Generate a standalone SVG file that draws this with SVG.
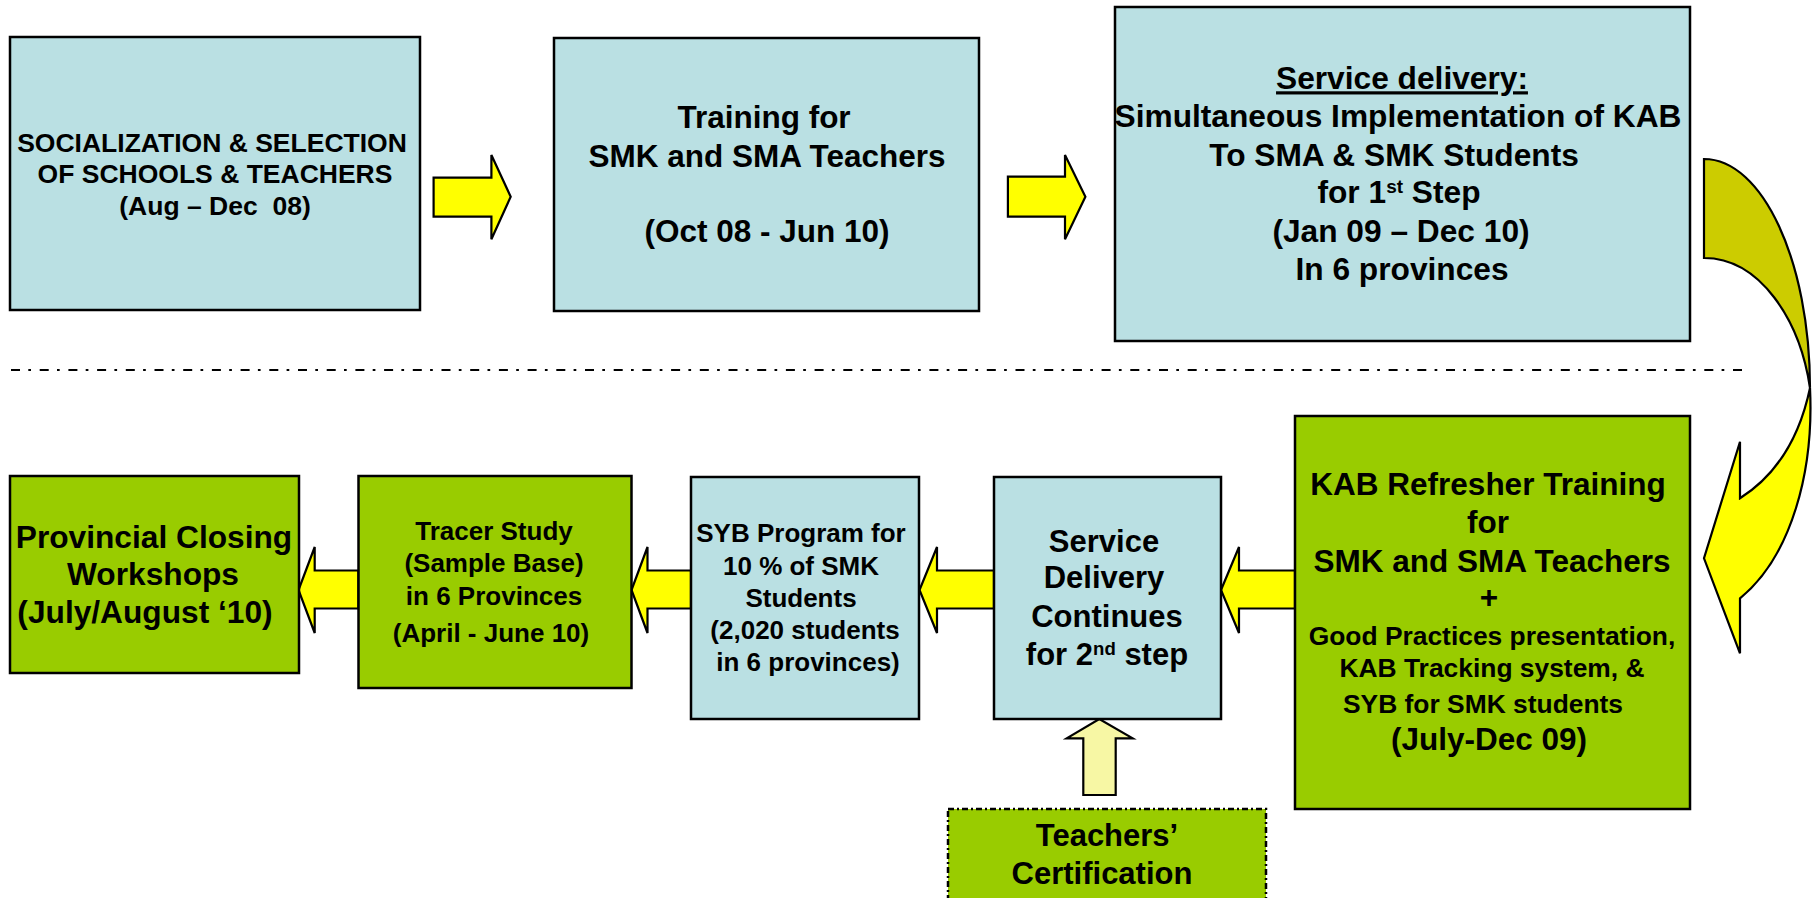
<svg xmlns="http://www.w3.org/2000/svg" width="1812" height="898" viewBox="0 0 1812 898">
<style>
.blue{fill:#BAE0E3;stroke:#000;stroke-width:2.5}
.green{fill:#99CC00;stroke:#000;stroke-width:2.5}
.arr{fill:#FFFF00;stroke:#000;stroke-width:2.2;stroke-linejoin:miter}
.t{font-family:"Liberation Sans",Arial,sans-serif;font-weight:bold;fill:#000;text-anchor:middle}
.sup{font-size:60%}
</style>
<rect width="1812" height="898" fill="#fff"/>
<line x1="11" y1="370" x2="1750" y2="370" stroke="#000" stroke-width="2" stroke-dasharray="9 8.3 2.7 8.7"/>
<g id="connectors">
<path class="arr" d="M433.6,177.7 H491.4 V155 L510.7,196.7 L491.4,239.3 V216.7 H433.6 Z"/>
<path class="arr" d="M1007.9,176.7 H1065 V155 L1085.4,196.7 L1065,239.3 V216.7 H1007.9 Z"/>
<g id="curved-arrow">
<path d="M1704,159 C1762.5,159 1810,261.5 1810,388 C1800,320 1760,258 1704,258 Z" fill="#CCCC00" stroke="#000" stroke-width="2.2"/>
<path d="M1810,388 C1814,470 1792,556 1740,598.3 L1740,653.3 L1704,558.3 L1740,441.7 L1740,498.3 C1772,478 1798,445 1810,388 Z" fill="#FFFF00" stroke="#000" stroke-width="2.2"/>
</g>
<path class="arr" d="M1295,570.5 H1239 V547 L1221,590 L1239,633 V608.5 H1295 Z"/>
<path class="arr" d="M994,570.5 H937 V547 L919.5,590 L937,633 V608.5 H994 Z"/>
<path class="arr" d="M691,570.5 H647.5 V547 L631.5,590 L647.5,633 V608.5 H691 Z"/>
<path class="arr" d="M358.5,570.5 H314.7 V547 L298.5,590 L314.7,633 V608.5 H358.5 Z"/>
<path d="M1083.3,795 V738.3 H1066.7 L1099.3,719 L1132.7,738.3 H1115.7 V795 Z" fill="#F7F7A4" stroke="#000" stroke-width="2.2"/>
</g>
<g id="node-socialization">
<rect class="blue" x="10" y="37" width="410" height="273"/>
<text class="t" font-size="26.5"><tspan x="212" y="151.7">SOCIALIZATION &amp; SELECTION</tspan><tspan x="215" y="183.3">OF SCHOOLS &amp; TEACHERS</tspan><tspan x="215" y="215" style="white-space:pre">(Aug – Dec  08)</tspan></text>
</g>
<g id="node-training">
<rect class="blue" x="554" y="38" width="425" height="273"/>
<text class="t" font-size="31.5"><tspan x="764" y="127.7">Training for</tspan><tspan x="767" y="166.7">SMK and SMA Teachers</tspan><tspan x="767" y="241.7">(Oct 08 - Jun 10)</tspan></text>
</g>
<g id="node-service-delivery">
<rect class="blue" x="1115" y="7" width="575" height="334"/>
<text class="t" font-size="31.7"><tspan x="1402" y="89.3" text-decoration="underline">Service delivery:</tspan><tspan x="1398" y="127.3">Simultaneous Implementation of KAB</tspan><tspan x="1394" y="165.7">To SMA &amp; SMK Students</tspan><tspan x="1399" y="203.3">for 1<tspan class="sup" dy="-10">st</tspan><tspan dy="10"> Step</tspan></tspan><tspan x="1401" y="241.7">(Jan 09 – Dec 10)</tspan><tspan x="1402" y="280">In 6 provinces</tspan></text>
</g>
<g id="node-kab-refresher">
<rect class="green" x="1295" y="416" width="395" height="393"/>
<text class="t" font-size="31.5"><tspan x="1488" y="495">KAB Refresher Training</tspan><tspan x="1488" y="533.3">for</tspan><tspan x="1492" y="571.7">SMK and SMA Teachers</tspan><tspan x="1489" y="608">+</tspan></text>
<text class="t" font-size="26.4"><tspan x="1492" y="645">Good Practices presentation,</tspan><tspan x="1492" y="676.7">KAB Tracking system, &amp;</tspan><tspan x="1483" y="713.3">SYB for SMK students</tspan></text>
<text class="t" font-size="31.5" x="1489" y="750">(July-Dec 09)</text>
</g>
<g id="node-service-continues">
<rect class="blue" x="994" y="477" width="227" height="242"/>
<text class="t" font-size="31"><tspan x="1104" y="551.5">Service</tspan><tspan x="1104" y="588.2">Delivery</tspan><tspan x="1107" y="627">Continues</tspan><tspan x="1107" y="665.4">for 2<tspan class="sup" dy="-10">nd</tspan><tspan dy="10"> step</tspan></tspan></text>
</g>
<g id="node-syb">
<rect class="blue" x="691" y="477" width="228" height="242"/>
<text class="t" font-size="26"><tspan x="801" y="541.9">SYB Program for</tspan><tspan x="801" y="574.5">10 % of SMK</tspan><tspan x="801" y="607.1">Students</tspan><tspan x="805" y="638.7">(2,020 students</tspan><tspan x="808" y="670.6">in 6 provinces)</tspan></text>
</g>
<g id="node-tracer">
<rect class="green" x="358.5" y="476" width="273" height="212"/>
<text class="t" font-size="26"><tspan x="494" y="540">Tracer Study</tspan><tspan x="494" y="571.7">(Sample Base)</tspan><tspan x="494" y="605">in 6 Provinces</tspan><tspan x="491" y="641.7">(April - June 10)</tspan></text>
</g>
<g id="node-provincial">
<rect class="green" x="10" y="476" width="289" height="197"/>
<text class="t" font-size="31.7"><tspan x="154" y="548.3">Provincial Closing</tspan><tspan x="153" y="585">Workshops</tspan><tspan x="145" y="623.3">(July/August ‘10)</tspan></text>
</g>
<g id="node-certification">
<rect x="948" y="809" width="318" height="120" fill="#99CC00" stroke="#000" stroke-width="2.5" stroke-dasharray="6 3 2 3"/>
<text class="t" font-size="31"><tspan x="1107" y="845.6">Teachers’</tspan><tspan x="1102" y="884">Certification</tspan></text>
</g>
</svg>
